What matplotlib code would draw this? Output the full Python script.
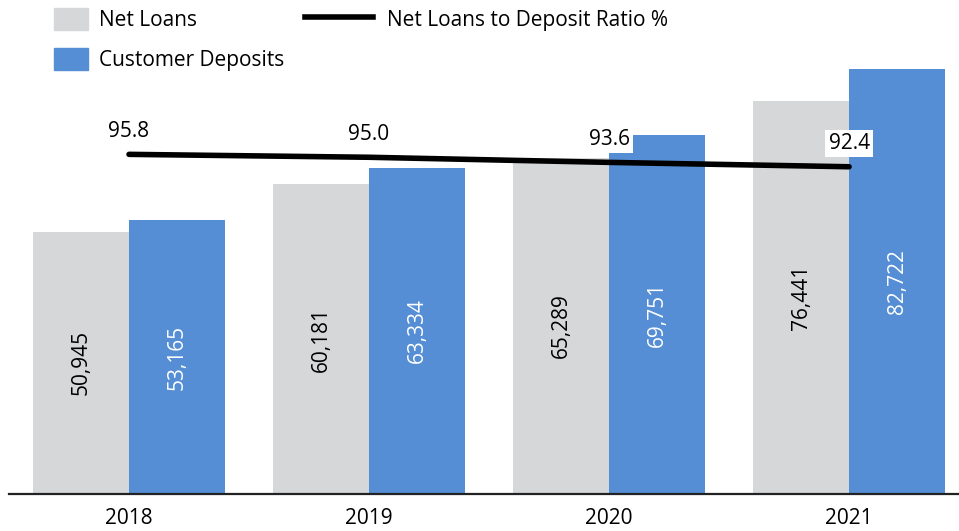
import numpy as np
import matplotlib.pyplot as plt
from matplotlib.patches import Patch
from matplotlib.lines import Line2D

plt.rcParams['font.family'] = 'Open Sans'
plt.rcParams['font.size'] = 15

# loans vs deposits by year, plus the ratio line
years = ["2018", "2019", "2020", "2021"]
net_loans = np.array([50945, 60181, 65289, 76441])
customer_deposits = np.array([53165, 63334, 69751, 82722])
ratio = np.array([95.8, 95.0, 93.6, 92.4])

grey = "#D6D7D9"
blue = "#558ED5"

fig = plt.figure(figsize=(9.59, 5.31), dpi=100)
ax = fig.add_axes([9 / 959, (531 - 493.7) / 531, 950 / 959, 493.7 / 531])

x = np.arange(len(years))
w = 0.4
b1 = ax.bar(x - w / 2, net_loans, width=w, color=grey)
b2 = ax.bar(x + w / 2, customer_deposits, width=w, color=blue)

# values written sideways inside the bars
for bars, vals, col in [(b1, net_loans, "black"), (b2, customer_deposits, "white")]:
    for r, v in zip(bars, vals):
        ax.text(r.get_x() + r.get_width() / 2, v / 2, f"{v:,}",
                rotation=90, ha="center", va="center", color=col)

ax.set_xlim(-0.5, 3.458)
ax.set_ylim(0, 96050)
ax.set_yticks([])
ax.set_xticks(x)
ax.set_xticklabels(years)
ax.tick_params(axis="x", length=0, pad=10)
for s in ["top", "left", "right"]:
    ax.spines[s].set_visible(False)
ax.spines["bottom"].set_linewidth(1.6)
ax.spines["bottom"].set_color("#222222")

# ratio line on its own scale
ax2 = ax.twinx()
ax2.plot(x, ratio, color="black", linewidth=4, solid_capstyle="round")
ax2.set_ylim(2.8, 138.1)
ax2.set_yticks([])
for s in ax2.spines.values():
    s.set_visible(False)

for xi, r in zip(x, ratio):
    ax2.annotate(f"{r:.1f}", (xi, r), xytext=(0, 23), textcoords="offset pixels",
                 ha="center", va="center",
                 bbox=dict(boxstyle="square,pad=0.15", fc="white", ec="none"))

leg1 = fig.legend(handles=[Patch(color=grey, label="Net Loans"),
                           Patch(color=blue, label="Customer Deposits")],
                  loc="upper left", bbox_to_anchor=(54 / 959, 1 - 8 / 531),
                  frameon=False, borderpad=0, borderaxespad=0,
                  handlelength=1.63, handleheight=1.25, handletextpad=0.53,
                  labelspacing=0.8)
leg2 = fig.legend(handles=[Line2D([], [], color="black", linewidth=4,
                                  label="Net Loans to Deposit Ratio %")],
                  loc="upper left", bbox_to_anchor=(305 / 959, 1 - 8 / 531),
                  frameon=False, borderpad=0, borderaxespad=0,
                  handlelength=3.27, handleheight=1.25, handletextpad=0.67)

fig.savefig("out.png", dpi=100)
